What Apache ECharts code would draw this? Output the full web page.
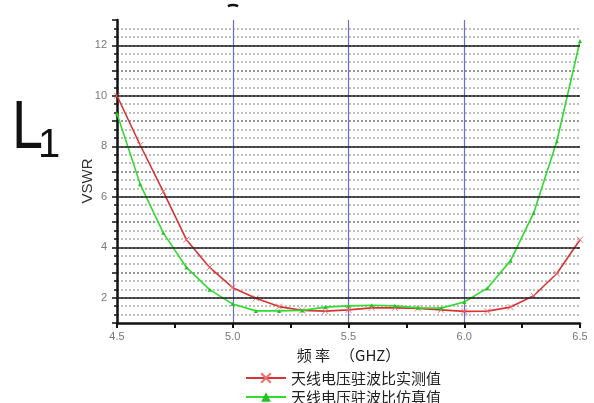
<!DOCTYPE html>
<html>
<head>
<meta charset="utf-8">
<script src="https://cdn.jsdelivr.net/npm/echarts@6/dist/echarts.min.js"></script>
<style>
html,body{margin:0;padding:0;background:#fff;}
#c{width:594px;height:403px;}
</style>
</head>
<body>
<div id="c"></div>
<script>
// ---- data ----
var freqGHz = [4.5, 4.6, 4.7, 4.8, 4.9, 5.0, 5.1, 5.2, 5.3, 5.4, 5.5, 5.6, 5.7, 5.8, 5.9, 6.0, 6.1, 6.2, 6.3, 6.4, 6.5];
var vswrMeasured = [10.0, 8.05, 6.2, 4.3, 3.2, 2.4, 1.98, 1.65, 1.5, 1.47, 1.52, 1.6, 1.6, 1.58, 1.52, 1.46, 1.47, 1.63, 2.08, 2.96, 4.3];
var vswrSimulated = [9.3, 6.5, 4.57, 3.2, 2.32, 1.75, 1.48, 1.48, 1.5, 1.63, 1.68, 1.7, 1.68, 1.6, 1.59, 1.83, 2.38, 3.47, 5.36, 8.2, 12.17];
var majorYLines = [2, 4, 6, 8, 10, 12];
var seriesNames = ['天线电压驻波比实测值', '天线电压驻波比仿真值'];
var xAxisName = '频 率   （GHZ）';
var yAxisName = 'VSWR';

function pairs(xs, ys) { return xs.map(function (x, i) { return [x, ys[i]]; }); }

var chart = echarts.init(document.getElementById('c'), null, {renderer: 'canvas'});
var cjk = '"Noto Sans CJK SC", "Liberation Sans", sans-serif';
var latin = '"Liberation Sans", Arial, sans-serif';
var option = {
  backgroundColor: '#ffffff',
  animation: false,
  textStyle: {fontFamily: latin},
  grid: {left: 117, right: 14, top: 20, bottom: 80, containLabel: false},
  legend: {
    data: seriesNames,
    orient: 'vertical',
    left: 245,
    top: 370,
    height: 60,
    padding: 0,
    itemWidth: 40,
    itemHeight: 12,
    itemGap: 3,
    textStyle: {fontSize: 15, lineHeight: 16, color: '#222', fontFamily: cjk}
  },
  xAxis: {
    type: 'value',
    min: 4.5, max: 6.5, interval: 0.5,
    name: xAxisName,
    nameLocation: 'middle',
    nameGap: 25,
    nameTextStyle: {fontSize: 15, color: '#222', fontFamily: cjk},
    axisLine: {show: true, onZero: false, lineStyle: {color: '#111', width: 2.5}},
    axisTick: {show: true, inside: false, length: 5, lineStyle: {color: '#111', width: 2}},
    minorTick: {show: true, splitNumber: 2, length: 5, lineStyle: {color: '#111', width: 2}},
    axisLabel: {fontSize: 11, color: '#777', margin: 8, formatter: function (v) { return v.toFixed(1); }},
    splitLine: {show: true, showMinLine: false, showMaxLine: false, lineStyle: {color: '#6b6be0', width: 1.2}},
    minorSplitLine: {show: false}
  },
  yAxis: {
    type: 'value',
    min: 1, max: 13, interval: 1,
    axisLine: {show: true, onZero: false, lineStyle: {color: '#111', width: 2.5}},
    axisTick: {show: true, inside: false, length: 5, lineStyle: {color: '#111', width: 1.5}},
    minorTick: {show: true, splitNumber: 3, length: 3, lineStyle: {color: '#111', width: 1.5}},
    axisLabel: {fontSize: 11, color: '#777', margin: 10, formatter: function (v) { return (v % 2 === 0) ? String(v) : ''; }},
    splitLine: {show: true, showMinLine: false, showMaxLine: false, lineStyle: {color: '#777', width: 1.5, type: [2, 2]}},
    minorSplitLine: {show: true, lineStyle: {color: '#aaa', width: 1.5, type: [2, 2]}}
  },
  series: [
    {
      name: '_grid',
      type: 'line',
      data: [],
      z: 1,
      silent: true,
      markLine: {
        silent: true,
        symbol: 'none',
        label: {show: false},
        lineStyle: {color: '#222', width: 1.6, type: 'solid'},
        data: majorYLines.map(function (v) { return {yAxis: v}; })
      }
    },
    {
      name: seriesNames[0],
      type: 'line',
      z: 3,
      data: pairs(freqGHz, vswrMeasured),
      symbol: 'path://M0,0L10,10M10,0L0,10',
      symbolSize: 6,
      lineStyle: {color: '#d93333', width: 1.6},
      itemStyle: {color: '#d93333', borderColor: '#f07070', borderWidth: 1}
    },
    {
      name: seriesNames[1],
      type: 'line',
      z: 4,
      data: pairs(freqGHz, vswrSimulated),
      symbol: 'triangle',
      symbolSize: 4,
      lineStyle: {color: '#2fdc2f', width: 1.6},
      itemStyle: {color: '#22c422'}
    }
  ],
  graphic: [
    {type: 'text', x: 12, y: 95, scaleX: 0.82, style: {text: 'L', fontSize: 68, fill: '#111', fontFamily: latin}},
    {type: 'text', x: 38, y: 126, style: {text: '1', fontSize: 40, fill: '#111', fontFamily: latin}},
    {type: 'text', x: 88, y: 181, rotation: Math.PI / 2, style: {text: yAxisName, fontSize: 15, fill: '#333', align: 'center', verticalAlign: 'middle', fontFamily: latin}},
    {type: 'arc', shape: {cx: 233, cy: 17, r: 12, startAngle: Math.PI * 1.36, endAngle: Math.PI * 1.64}, style: {stroke: '#111', lineWidth: 2.5, fill: null}}
  ]
};
chart.setOption(option);
</script>
</body>
</html>
